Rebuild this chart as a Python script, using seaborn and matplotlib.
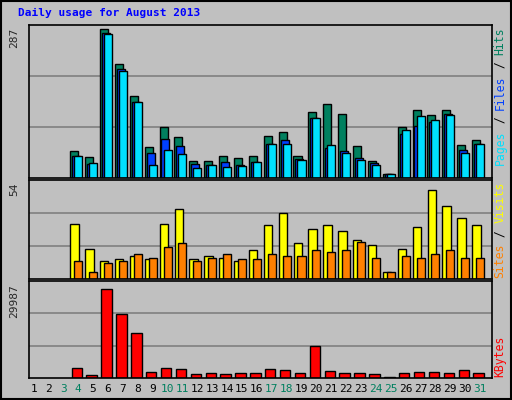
import matplotlib
matplotlib.use("Agg")
import matplotlib.pyplot as plt
import numpy as np
import pandas as pd
import seaborn as sns
from matplotlib.patches import Rectangle

days = list(range(1, 32))
hits = [0, 0, 0, 53, 40, 287, 219, 158, 60, 99, 79, 32, 32, 42, 38, 42, 81,
        89, 42, 128, 143, 124, 62, 32, 7, 99, 132, 122, 132, 64, 73]
files = [0, 0, 0, 42, 27, 279, 211, 147, 48, 75, 62, 27, 26, 31, 25, 31, 65,
         73, 36, 116, 58, 52, 38, 29, 7, 85, 101, 108, 124, 54, 66]
pages = [0, 0, 0, 42, 29, 278, 206, 147, 25, 54, 46, 19, 25, 21, 23, 31, 65,
         65, 34, 116, 64, 48, 34, 25, 7, 93, 120, 112, 122, 48, 66]
visits = [0, 0, 0, 31, 17, 10, 11, 13, 11, 31, 39, 11, 13, 12, 10, 16, 30,
          37, 20, 28, 30, 27, 22, 19, 4, 17, 29, 50, 41, 34, 30]
sites = [0, 0, 0, 10, 4, 9, 10, 14, 12, 18, 20, 10, 12, 14, 11, 11, 14,
         13, 13, 16, 15, 16, 21, 12, 4, 13, 12, 14, 16, 12, 12]
kbytes = [0, 0, 0, 3475, 870, 29987, 21400, 15200, 2170, 3475, 3150, 1200, 1850,
          1200, 1520, 1520, 3150, 2820, 1520, 10640, 2500, 1850, 1850, 1200, 430,
          1520, 2170, 2170, 1850, 2820, 1520]
weekend_days = [3, 4, 10, 11, 17, 18, 24, 25, 31]

BG = "#C0C0C0"
sns.set_style("white")
plt.rcParams["font.family"] = ["DejaVu Sans Mono"]

fig = plt.figure(figsize=(5.12, 4.0), dpi=100)
fig.patch.set_facecolor(BG)
W, H = 512, 400


def axes_px(x0, y0, x1, y1):
    ax = fig.add_axes([x0 / W, 1 - y1 / H, (x1 - x0) / W, (y1 - y0) / H])
    ax.set_facecolor(BG)
    for s in ax.spines.values():
        s.set_color("black")
        s.set_linewidth(1.2)
    return ax


def bars(ax, values, offset, width, color):
    df = pd.DataFrame({"x": np.array(days) + offset, "y": values})
    df = df[df["y"] > 0]
    sns.barplot(data=df, x="x", y="y", native_scale=True, width=width,
                color=color, edgecolor="black", linewidth=1, saturation=1, ax=ax)


def finish(ax, top):
    ax.set_xlim(0.69, 31.8)
    ax.set_ylim(0, top)
    for g in (top / 3, 2 * top / 3):
        ax.axhline(g, color="#808080", lw=1.2, zorder=0)
    ax.set_xticks([])
    ax.set_yticks([])
    ax.set_xlabel("")
    ax.set_ylabel("")


ax1 = axes_px(29, 25, 492, 178)
bars(ax1, hits, -0.27, 0.54, "#00805F")
bars(ax1, files, -0.14, 0.54, "#0040FF")
bars(ax1, pages, 0.0, 0.54, "#00E0FF")
finish(ax1, 295)

ax2 = axes_px(29, 180, 492, 279)
bars(ax2, visits, -0.25, 0.56, "#FFFF00")
bars(ax2, sites, 0.0, 0.54, "#FF8000")
finish(ax2, 55.5)

ax3 = axes_px(29, 281, 492, 378)
bars(ax3, kbytes, -0.1, 0.7, "#FF0000")
finish(ax3, 29987 * 1.09)

fig.text(18 / W, 1 - 13 / H, "Daily usage for August 2013", color="#0000FF",
         fontsize=8, fontweight="bold", va="center", ha="left")

for lbl, ytop in (("287", 28), ("54", 183), ("29987", 284)):
    fig.text(14 / W, 1 - ytop / H, lbl, rotation=90, fontsize=8,
             ha="center", va="top")

CH = 6.9


def right_label(parts, ybottom):
    y = ybottom
    for txt, col in parts:
        fig.text(500 / W, 1 - y / H, txt, rotation=90, fontsize=8.3,
                 color=col, ha="center", va="bottom")
        y -= CH * len(txt)


right_label([("Pages", "#00E0FF"), (" / ", "black"), ("Files", "#0040FF"),
             (" / ", "black"), ("Hits", "#00805F")], 165)
right_label([("Sites", "#FF8000"), (" / ", "black"), ("Visits", "#FFFF00")], 278)
right_label([("KBytes", "#FF0000")], 377)

for d in days:
    col = "#00805F" if d in weekend_days else "black"
    x = 33.6 + 14.88 * (d - 1)
    fig.text(x / W, 1 - 389 / H, str(d), color=col, fontsize=8,
             ha="center", va="center")

fig.add_artist(Rectangle((1 / W, 1 / H), 1 - 2 / W, 1 - 2 / H,
                         transform=fig.transFigure, fill=False,
                         edgecolor="black", lw=1.5))

fig.savefig("out.png", dpi=100, facecolor=BG)
